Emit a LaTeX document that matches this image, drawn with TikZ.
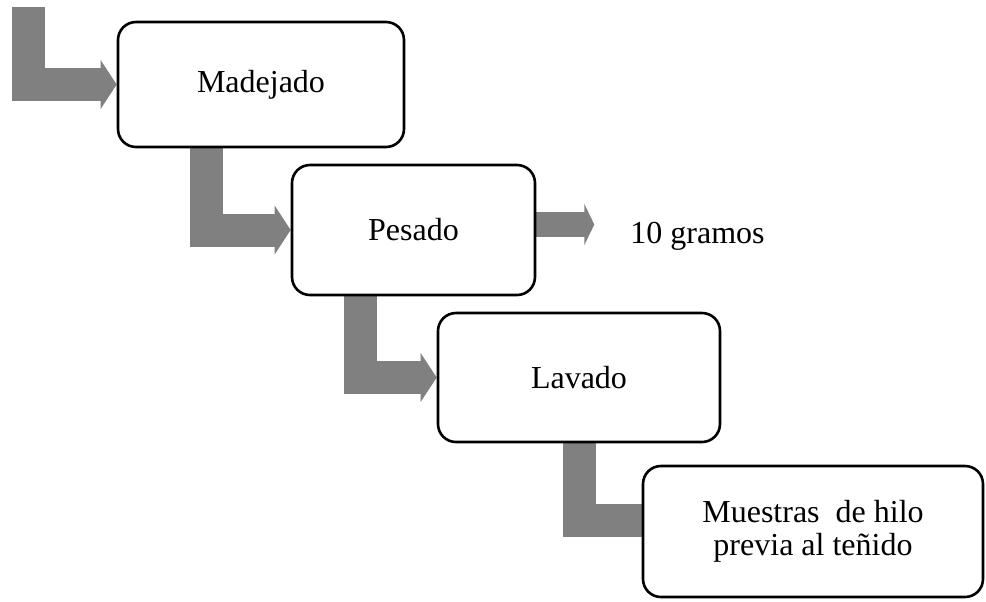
\documentclass[tikz,border=0pt]{standalone}
\usepackage{fontspec}
\setmainfont{Liberation Serif}
\usetikzlibrary{arrows.meta,backgrounds}
\definecolor{flechaGris}{HTML}{808080}

\begin{document}
\begin{tikzpicture}[x=0.5pt,y=-0.5pt]
    \tikzset{
        paso/.style={draw=black,line width=1.3pt,fill=white,rounded corners=9pt,align=center,inner sep=0pt,font=\fontsize{16}{16.5}\selectfont},
        flecha/.style={draw=flechaGris,line width=16.5pt,line join=miter,-{Triangle[width=24pt,length=8pt]}},
        flechita/.style={draw=flechaGris,line width=12.5pt,-{Triangle[width=20.5pt,length=5pt]}}
    };
    \useasboundingbox (0,0) rectangle (986,601);
    \node[paso,minimum width=143pt,minimum height=62.5pt] (madejado) at (261,84.5) {Madejado};
    \node[paso,minimum width=121.5pt,minimum height=65pt] (pesado) at (413.5,230) {Pesado};
    \node[paso,minimum width=141pt,minimum height=64.5pt] (lavado) at (579,377.5) {Lavado};
    \node[paso,minimum width=170pt,minimum height=65.5pt] (muestras) at (813,531.5) {Muestras\ \ de hilo\\previa al teñido};
    \node[anchor=base west,inner sep=0pt,font=\fontsize{16}{16.5}\selectfont] (gramos) at (630,243) {10 gramos};
    \coordinate (inicio) at (28.5,7);
    \begin{scope}[on background layer]
        \draw[flecha] (inicio) |- (madejado.west);
        \draw[flecha] ([xshift=45pt]madejado.south west) |- (pesado.west);
        \draw[flecha] ([xshift=34.75pt]pesado.south west) |- (lavado.west);
        \draw[flecha] ([xshift=71.25pt]lavado.south west) |- ([shift={(10pt,5.5pt)}]muestras.west);
        \draw[flechita] ([yshift=2.75pt]pesado.east) -- ++(29pt,0);
    \end{scope}
\end{tikzpicture}
\end{document}
